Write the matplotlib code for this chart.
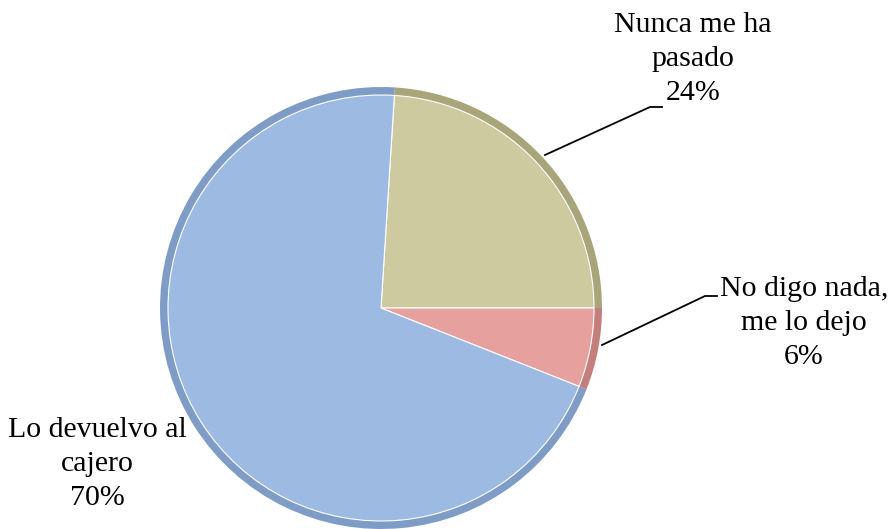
import numpy as np
import matplotlib.pyplot as plt

# datos del grafico
categorias = ['Nunca me ha\npasado', 'No digo nada,\nme lo dejo', 'Lo devuelvo al\ncajero']
porcentajes = [24, 6, 70]
colores = ['#CDCAA0', '#E6A19F', '#9DBAE2']
bordes = ['#A9A57A', '#C47F7D', '#7E9CC6']

W, H = 888, 529
fig = plt.figure(figsize=(W / 100, H / 100), dpi=100)
ax = fig.add_axes([0, 0, 1, 1])

cx, cy, r = 381, H - 308, 221

# capa exterior (borde oscuro del bisel)
ax.pie(porcentajes, colors=bordes, startangle=86.4, counterclock=False,
       center=(cx, cy), radius=r, frame=True,
       wedgeprops=dict(edgecolor='none'))
# capa interior (color principal)
ax.pie(porcentajes, colors=colores, startangle=86.4, counterclock=False,
       center=(cx, cy), radius=r - 8, frame=True,
       wedgeprops=dict(edgecolor='#FFFFFF', linewidth=0.8))
ax.set_xlim(0, W)
ax.set_ylim(0, H)
ax.set_aspect('equal')
ax.axis('off')

fuente = dict(family=['Liberation Serif', 'DejaVu Serif'], size=21.5, color='black',
              ha='center', va='center', linespacing=1.4)

# etiquetas (posiciones en pixeles de la imagen)
pos = [(693, 59), (804, 323), (97, 464)]
for cat, p, (px, py) in zip(categorias, porcentajes, pos):
    ax.text(px, H - py, f'{cat}\n{p}%', **fuente)

# lineas guia
ax.plot([545, 650, 662], [H - 155, H - 107, H - 107], color='black', lw=1.3)
ax.plot([602, 705, 717], [H - 345, H - 296, H - 296], color='black', lw=1.3)

fig.savefig('out.png', dpi=100)
